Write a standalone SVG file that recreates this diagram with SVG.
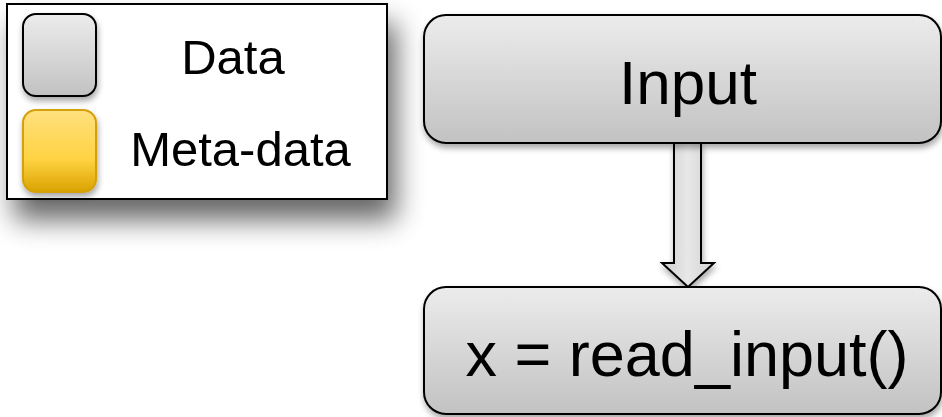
<svg xmlns="http://www.w3.org/2000/svg" width="942" height="417" viewBox="0 0 942 417">
<defs>
<linearGradient id="gray" x1="0" y1="0" x2="0" y2="1">
<stop offset="0" stop-color="#ECECEC"/>
<stop offset="1" stop-color="#C2C2C2"/>
</linearGradient>
<linearGradient id="grayH" x1="0" y1="0" x2="1" y2="0">
<stop offset="0" stop-color="#CFCFCF"/>
<stop offset="0.5" stop-color="#E8E8E8"/>
<stop offset="1" stop-color="#CFCFCF"/>
</linearGradient>
<linearGradient id="gold" x1="0" y1="0" x2="0" y2="1">
<stop offset="0" stop-color="#FFE07E"/>
<stop offset="0.6" stop-color="#FFD342"/>
<stop offset="1" stop-color="#D9A200"/>
</linearGradient>
<filter id="bigShadow" x="-20%" y="-20%" width="150%" height="170%">
<feGaussianBlur in="SourceAlpha" stdDeviation="14"/>
<feOffset dx="8" dy="20" result="b"/>
<feComponentTransfer><feFuncA type="linear" slope="0.6"/></feComponentTransfer>
<feMerge><feMergeNode/><feMergeNode in="SourceGraphic"/></feMerge>
</filter>
<filter id="smallShadow" x="-10%" y="-10%" width="130%" height="140%">
<feGaussianBlur in="SourceAlpha" stdDeviation="3"/>
<feOffset dx="1" dy="4" result="b"/>
<feComponentTransfer><feFuncA type="linear" slope="0.35"/></feComponentTransfer>
<feMerge><feMergeNode/><feMergeNode in="SourceGraphic"/></feMerge>
</filter>
</defs>
<style>
.node { fill: url(#gray); stroke: #000; stroke-width: 2; filter: url(#smallShadow); }
.label { font-family: "Liberation Sans", Arial, sans-serif; fill: #000; text-anchor: middle; }
</style>
<g id="legend">
<rect x="7" y="4" width="380" height="195" fill="#FFFFFF" stroke="#000" stroke-width="2" filter="url(#bigShadow)"/>
<rect x="23" y="14" width="73" height="82" rx="13" fill="url(#gray)" stroke="#000" stroke-width="2" filter="url(#smallShadow)"/>
<rect x="23" y="110" width="73" height="82" rx="13" fill="url(#gold)" stroke="#D4A00A" stroke-width="2" filter="url(#smallShadow)"/>
<text class="label" x="233" y="74" font-size="49">Data</text>
<text class="label" x="240.5" y="166" font-size="49">Meta-data</text>
</g>
<g id="connectors">
<path d="M674,143 L701,143 L701,263 L714,263 L688,287 L662,263 L674,263 Z" fill="url(#grayH)" stroke="#000" stroke-width="2" stroke-linejoin="miter" filter="url(#smallShadow)"/>
</g>
<g id="node-input">
<rect class="node" x="424" y="15" width="517" height="128" rx="22"/>
<text class="label" x="688" y="104" font-size="62">Input</text>
</g>
<g id="node-read">
<rect class="node" x="424" y="287" width="517" height="127" rx="22"/>
<text class="label" x="687" y="376" font-size="63">x = read_input()</text>
</g>
</svg>
